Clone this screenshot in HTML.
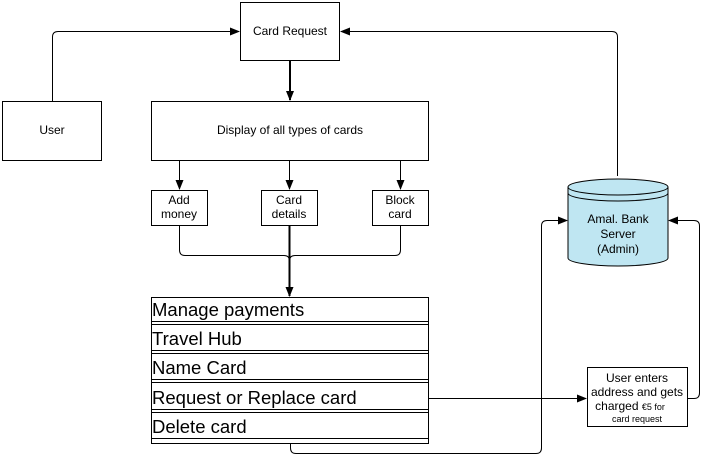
<!DOCTYPE html>
<html><head><meta charset="utf-8"><style>
html,body{margin:0;padding:0;background:#fff;}
svg{display:block;font-family:"Liberation Sans",Arial,sans-serif;}
</style></head><body>
<svg width="704" height="457" viewBox="0 0 704 457" xmlns="http://www.w3.org/2000/svg">
<defs>
<marker id="a" markerWidth="10" markerHeight="8" refX="9" refY="4" orient="auto" markerUnits="userSpaceOnUse">
<path d="M0,0 L10,4 L0,8 Z" fill="#000"/></marker>
</defs>
<g fill="none" stroke="#000" stroke-width="1">
<rect x="240.5" y="2.5" width="99" height="58"/>
<rect x="2.5" y="101.5" width="99" height="59"/>
<rect x="151.5" y="101.5" width="277" height="59"/>
<rect x="151.5" y="190.5" width="56" height="35"/>
<rect x="261.5" y="190.5" width="56" height="35"/>
<rect x="372.5" y="190.5" width="56" height="35"/>
<rect x="587.5" y="367.5" width="100" height="59"/>
<rect x="151.5" y="297.5" width="277" height="146"/>
<line x1="151" y1="321.5" x2="429" y2="321.5"/><line x1="151" y1="324.5" x2="429" y2="324.5"/>
<line x1="151" y1="350.5" x2="429" y2="350.5"/><line x1="151" y1="353.5" x2="429" y2="353.5"/>
<line x1="151" y1="379.5" x2="429" y2="379.5"/><line x1="151" y1="382.5" x2="429" y2="382.5"/>
<line x1="151" y1="409.5" x2="429" y2="409.5"/><line x1="151" y1="412.5" x2="429" y2="412.5"/>
<line x1="151" y1="438.5" x2="429" y2="438.5"/>
<path d="M52.5,101 V37 Q52.5,31.5 58,31.5 H239" marker-end="url(#a)"/>
<path d="M617.5,176 V37 Q617.5,31.5 612,31.5 H341" marker-end="url(#a)"/>
<path d="M290,61 V100" stroke-width="2" marker-end="url(#a)"/>
<path d="M179.5,161 V189" marker-end="url(#a)"/>
<path d="M289.5,161 V189" marker-end="url(#a)"/>
<path d="M400.5,161 V189" marker-end="url(#a)"/>
<path d="M179.5,226 V250 Q179.5,255.5 185,255.5 H284 Q289.5,255.5 289.5,261"/>
<path d="M400.5,226 V250 Q400.5,255.5 395,255.5 H295 Q289.5,255.5 289.5,261"/>
<path d="M289.5,226 V296" stroke-width="2" marker-end="url(#a)"/>
<path d="M429,398.5 H586" marker-end="url(#a)"/>
<path d="M290.5,444 V448 Q290.5,453.5 296,453.5 H536 Q541.5,453.5 541.5,448 V226 Q541.5,220.5 547,220.5 H567" marker-end="url(#a)"/>
<path d="M688,398.5 H694 Q699.5,398.5 699.5,393 V226 Q699.5,220.5 694,220.5 H669" marker-end="url(#a)"/>
</g>
<path d="M568,187 V258 A50,8 0 0 0 668,258 V187" fill="#bfe6f2" stroke="#000"/>
<ellipse cx="618" cy="187" rx="50" ry="8" fill="#bfe6f2" stroke="#000"/>
<path d="M568,193 A50,8 0 0 0 668,193" fill="none" stroke="#000"/>
<g font-size="12" text-anchor="middle" fill="#000">
<text x="290" y="35">Card Request</text>
<text x="52" y="134">User</text>
<text x="290" y="134">Display of all types of cards</text>
<text x="179" y="204">Add</text><text x="179" y="218">money</text>
<text x="289" y="204">Card</text><text x="289" y="218">details</text>
<text x="400" y="204">Block</text><text x="400" y="218">card</text>
<text x="618" y="223">Amal. Bank</text><text x="618" y="238">Server</text><text x="618" y="253">(Admin)</text>
<text x="637" y="382">User enters</text>
<text x="637" y="396">address and gets</text>
<text x="630" y="410">charged <tspan font-size="9">€5 for</tspan></text>
<text x="637" y="422" font-size="9">card request</text>
</g>
<g font-size="18.5" fill="#000">
<text x="152" y="316">Manage payments</text>
<text x="152" y="345">Travel Hub</text>
<text x="152" y="374">Name Card</text>
<text x="152" y="404">Request or Replace card</text>
<text x="152" y="433">Delete card</text>
</g>
</svg>
</body></html>
